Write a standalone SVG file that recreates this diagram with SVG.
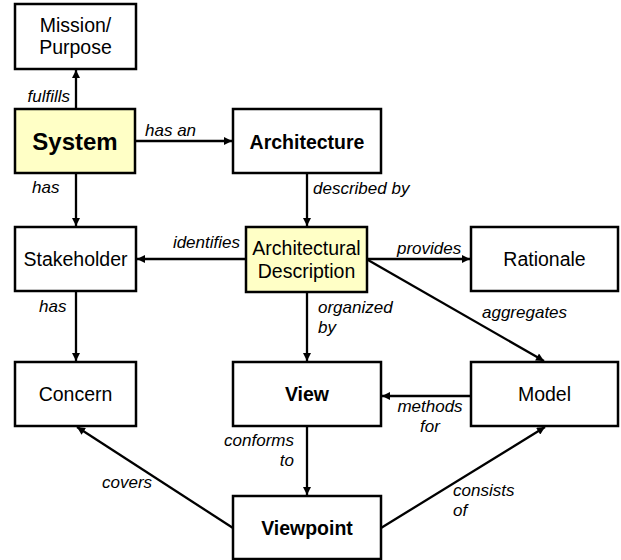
<svg xmlns="http://www.w3.org/2000/svg" width="621" height="560" viewBox="0 0 621 560">
  <style>
    .box { fill: #ffffff; stroke: #000000; stroke-width: 2.5; }
    .hl { fill: #ffffc6; }
    .t { font-family: "Liberation Sans", Arial, sans-serif; font-size: 19.5px; fill: #000; text-anchor: middle; }
    .b { font-weight: bold; }
    .lbl { font-family: "Liberation Sans", Arial, sans-serif; font-size: 17px; font-style: italic; fill: #000; }
    .edge { stroke: #000; stroke-width: 2.3; fill: none; marker-end: url(#arrow); }
  </style>
  <defs>
    <marker id="arrow" viewBox="0 0 10 10" refX="10" refY="5" markerUnits="userSpaceOnUse" markerWidth="9" markerHeight="8" orient="auto">
      <path d="M0,0 L10,5 L0,10 z" fill="#000"/>
    </marker>
  </defs>
  <rect width="621" height="560" fill="#ffffff"/>

  <g id="connectors">
    <!-- System fulfills Mission -->
    <line class="edge" x1="76" y1="109" x2="76" y2="70"/>
    <text class="lbl" x="70" y="102" text-anchor="end">fulfills</text>
    <!-- System has an Architecture -->
    <line class="edge" x1="135" y1="141" x2="232" y2="141"/>
    <text class="lbl" x="145" y="136">has an</text>
    <!-- System has Stakeholder -->
    <line class="edge" x1="76" y1="173" x2="76" y2="226"/>
    <text class="lbl" x="32" y="193">has</text>
    <!-- Architecture described by AD -->
    <line class="edge" x1="307" y1="173" x2="307" y2="226"/>
    <text class="lbl" x="313" y="194">described by</text>
    <!-- AD identifies Stakeholder -->
    <line class="edge" x1="246" y1="259" x2="137" y2="259"/>
    <text class="lbl" x="240" y="248" text-anchor="end">identifies</text>
    <!-- AD provides Rationale -->
    <line class="edge" x1="367" y1="259" x2="470" y2="259"/>
    <text class="lbl" x="397" y="254">provides</text>
    <!-- AD aggregates Model -->
    <line class="edge" x1="368" y1="260" x2="544" y2="361"/>
    <text class="lbl" x="482" y="318">aggregates</text>
    <!-- AD organized by View -->
    <line class="edge" x1="307" y1="292" x2="307" y2="361"/>
    <text class="lbl" x="318" y="313">organized</text>
    <text class="lbl" x="318" y="333">by</text>
    <!-- Stakeholder has Concern -->
    <line class="edge" x1="76" y1="291" x2="76" y2="361"/>
    <text class="lbl" x="39" y="312">has</text>
    <!-- Model methods for View -->
    <line class="edge" x1="471" y1="396" x2="382" y2="396"/>
    <text class="lbl" x="430" y="412" text-anchor="middle">methods</text>
    <text class="lbl" x="430" y="432" text-anchor="middle">for</text>
    <!-- View conforms to Viewpoint -->
    <line class="edge" x1="307" y1="426" x2="307" y2="495"/>
    <text class="lbl" x="294" y="446" text-anchor="end">conforms</text>
    <text class="lbl" x="294" y="466" text-anchor="end">to</text>
    <!-- Viewpoint covers Concern -->
    <line class="edge" x1="233" y1="528" x2="77" y2="427"/>
    <text class="lbl" x="102" y="488">covers</text>
    <!-- Viewpoint consists of Model -->
    <line class="edge" x1="381" y1="528" x2="545" y2="427"/>
    <text class="lbl" x="453" y="496">consists</text>
    <text class="lbl" x="453" y="516">of</text>
  </g>

  <g id="mission">
    <rect class="box" x="15" y="4" width="121" height="65"/>
    <text class="t" x="75.5" y="32">Mission/</text>
    <text class="t" x="75.5" y="54">Purpose</text>
  </g>
  <g id="system">
    <rect class="box hl" x="15" y="109" width="120" height="64"/>
    <text class="t b" x="75" y="150" style="font-size:24px">System</text>
  </g>
  <g id="architecture">
    <rect class="box" x="233" y="109" width="148" height="64"/>
    <text class="t b" x="307" y="149">Architecture</text>
  </g>
  <g id="stakeholder">
    <rect class="box" x="15" y="227" width="121" height="64"/>
    <text class="t" x="75.5" y="266">Stakeholder</text>
  </g>
  <g id="architectural-description">
    <rect class="box hl" x="246" y="227" width="121" height="65"/>
    <text class="t" x="306.5" y="255">Architectural</text>
    <text class="t" x="306.5" y="278">Description</text>
  </g>
  <g id="rationale">
    <rect class="box" x="471" y="227" width="147" height="64"/>
    <text class="t" x="544.5" y="266">Rationale</text>
  </g>
  <g id="concern">
    <rect class="box" x="15" y="362" width="121" height="64"/>
    <text class="t" x="75.5" y="401">Concern</text>
  </g>
  <g id="view">
    <rect class="box" x="233" y="362" width="148" height="64"/>
    <text class="t b" x="307" y="401">View</text>
  </g>
  <g id="model">
    <rect class="box" x="471" y="362" width="147" height="64"/>
    <text class="t" x="544.5" y="401">Model</text>
  </g>
  <g id="viewpoint">
    <rect class="box" x="233" y="496" width="148" height="63"/>
    <text class="t b" x="307" y="535">Viewpoint</text>
  </g>
</svg>
